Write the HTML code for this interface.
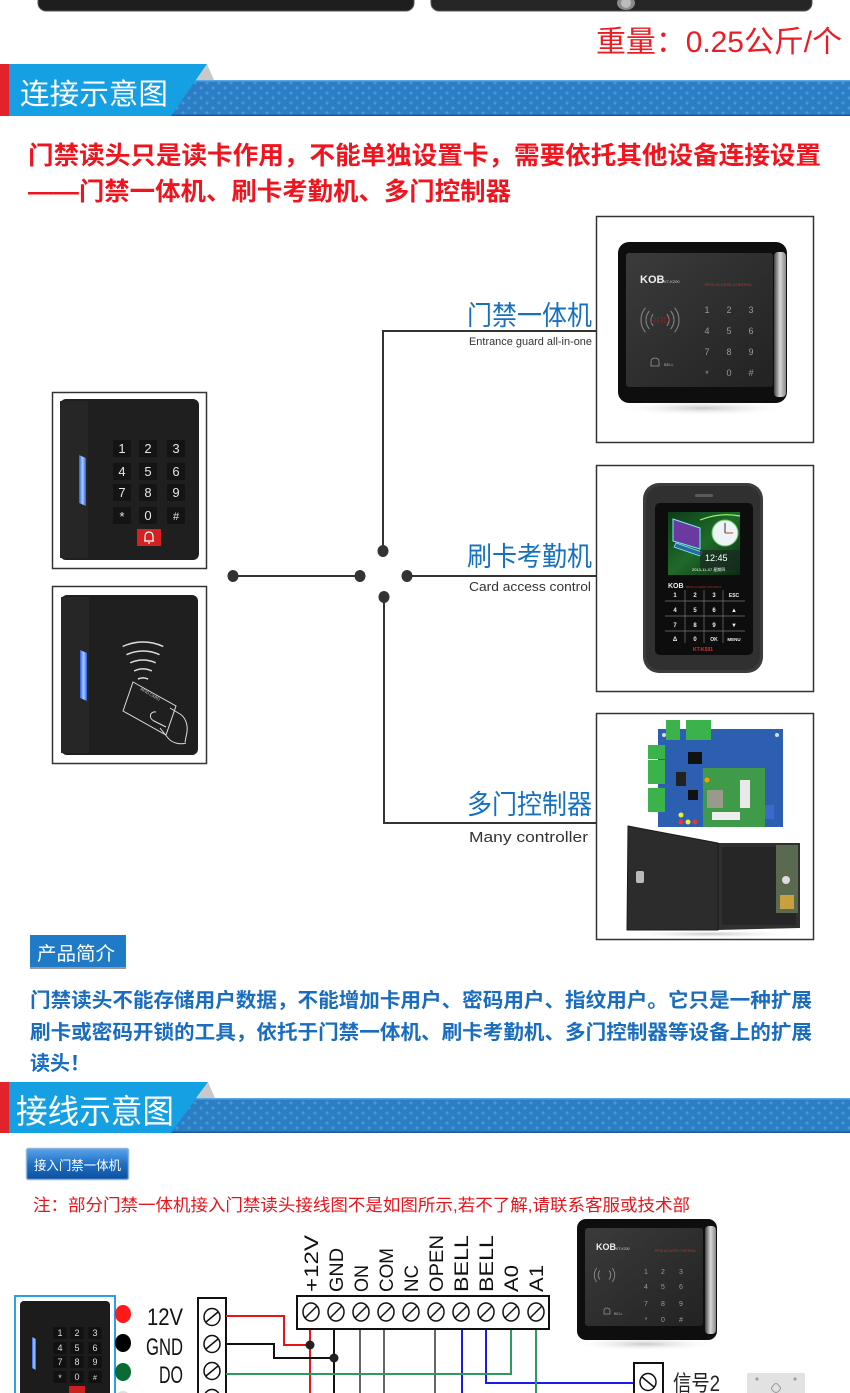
<!DOCTYPE html>
<html><head><meta charset="utf-8">
<style>
html,body{margin:0;padding:0;background:#fff;}
body{width:850px;height:1393px;overflow:hidden;}
svg{display:block;}
text{font-family:"Liberation Sans","Noto Sans CJK SC",sans-serif;}
.cjk{font-family:"Liberation Sans","Noto Sans CJK SC",sans-serif;}
</style></head><body>
<svg width="850" height="1393" viewBox="0 0 850 1393" xmlns="http://www.w3.org/2000/svg">
<defs>
<pattern id="stars" width="12" height="10" patternUnits="userSpaceOnUse">
 <path d="M3 0.5 L3.7 2.3 L5.5 3 L3.7 3.7 L3 5.5 L2.3 3.7 L0.5 3 L2.3 2.3Z" fill="#4fa2e2"/>
 <path d="M9 5.5 L9.7 7.3 L11.5 8 L9.7 8.7 L9 10.5 L8.3 8.7 L6.5 8 L8.3 7.3Z" fill="#4fa2e2"/>
</pattern>
<linearGradient id="btn" x1="0" y1="0" x2="0" y2="1"><stop offset="0" stop-color="#5aa4ea"/><stop offset="0.5" stop-color="#1f6fc6"/><stop offset="1" stop-color="#0c4f9e"/></linearGradient>
<linearGradient id="silver" x1="0" y1="0" x2="1" y2="0"><stop offset="0" stop-color="#444"/><stop offset="0.5" stop-color="#d8d8d8"/><stop offset="1" stop-color="#888"/></linearGradient>
<linearGradient id="face" x1="0" y1="0" x2="1" y2="1"><stop offset="0" stop-color="#3b3b3b"/><stop offset="1" stop-color="#222"/></linearGradient>
<linearGradient id="led" x1="0" y1="0" x2="1" y2="0"><stop offset="0" stop-color="#2a5ee8"/><stop offset="0.5" stop-color="#a8d0ff"/><stop offset="1" stop-color="#2a5ee8"/></linearGradient>
<radialGradient id="shadow"><stop offset="0" stop-color="#c8c8c8"/><stop offset="1" stop-color="#fff" stop-opacity="0"/></radialGradient>
<linearGradient id="scr" x1="0" y1="0" x2="1" y2="1"><stop offset="0" stop-color="#0d3b1a"/><stop offset="0.5" stop-color="#1f6a2a"/><stop offset="1" stop-color="#0b2a12"/></linearGradient>
</defs>

<!-- top device bottoms -->
<rect x="38" y="-12" width="376" height="23" rx="8" fill="#1e1e1e" stroke="#555" stroke-width="1"/>
<rect x="431" y="-12" width="381" height="23" rx="8" fill="#262626" stroke="#555" stroke-width="1"/>
<ellipse cx="626" cy="3" rx="9" ry="7" fill="#8a8a8a"/>
<ellipse cx="626" cy="3" rx="5" ry="5" fill="#bbb"/>

<text x="596" y="52" font-size="30" fill="#ec1c24" textLength="246" lengthAdjust="spacingAndGlyphs">重量：0.25公斤/个</text>

<!-- header 1 -->
<rect x="0" y="80" width="850" height="36" fill="#2b7dc4"/>
<rect x="0" y="80" width="850" height="36" fill="url(#stars)" opacity="0.8"/>
<rect x="0" y="80" width="850" height="1.5" fill="#5aa6e6"/>
<rect x="0" y="114.5" width="850" height="1.5" fill="#1a5a9c"/>
<polygon points="207,64 214,80 196,80" fill="#c9c9c9"/>
<polygon points="9,64 207,64 171,116 9,116" fill="#16a0e4"/>
<rect x="0" y="64" width="9" height="52" fill="#e3232a"/>
<text x="20" y="104" font-size="29" fill="#fff" textLength="148" lengthAdjust="spacingAndGlyphs">连接示意图</text>

<!-- red intro -->
<text x="28" y="164" font-size="25" font-weight="bold" fill="#f0141e" textLength="793" lengthAdjust="spacingAndGlyphs">门禁读头只是读卡作用，不能单独设置卡，需要依托其他设备连接设置</text>
<text x="28" y="200" font-size="25" font-weight="bold" fill="#f0141e" textLength="483" lengthAdjust="spacingAndGlyphs">——门禁一体机、刷卡考勤机、多门控制器</text>

<!-- connectors -->
<g stroke="#333" stroke-width="2" fill="none">
 <line x1="233" y1="576" x2="360" y2="576"/>
 <polyline points="383,551 383,331 596,331"/>
 <line x1="407" y1="576" x2="596" y2="576"/>
 <polyline points="384,597 384,823 596,823"/>
</g>
<g fill="#333">
 <ellipse cx="233" cy="576" rx="5.5" ry="6"/>
 <ellipse cx="360" cy="576" rx="5.5" ry="6"/>
 <ellipse cx="383" cy="551" rx="5.5" ry="6"/>
 <ellipse cx="407" cy="576" rx="5.5" ry="6"/>
 <ellipse cx="384" cy="597" rx="5.5" ry="6"/>
</g>

<!-- labels -->
<text x="467" y="325" font-size="27" fill="#1570c0" textLength="125" lengthAdjust="spacingAndGlyphs">门禁一体机</text>
<text x="469" y="345" font-size="11" fill="#333" textLength="123" lengthAdjust="spacingAndGlyphs">Entrance guard all-in-one</text>
<text x="467" y="566" font-size="27" fill="#1570c0" textLength="125" lengthAdjust="spacingAndGlyphs">刷卡考勤机</text>
<text x="469" y="591" font-size="13" fill="#333" textLength="122" lengthAdjust="spacingAndGlyphs">Card access control</text>
<text x="467" y="814" font-size="27" fill="#1570c0" textLength="125" lengthAdjust="spacingAndGlyphs">多门控制器</text>
<text x="469" y="842" font-size="15" fill="#333" textLength="119" lengthAdjust="spacingAndGlyphs">Many controller</text>

<!-- left box 1: keypad reader -->
<rect x="52.5" y="392.5" width="154" height="176" fill="#fff" stroke="#333" stroke-width="1.5"/>
<rect x="60" y="399" width="139" height="161" rx="6" fill="#1f1f1f"/>
<rect x="60" y="401" width="28" height="157" fill="#262626"/>
<polygon points="79,455 86,458 86,506 79,503" fill="url(#led)"/>
<g font-size="13" fill="#e6e6e6" text-anchor="middle">
 <rect x="113" y="440" width="18" height="17" fill="#141414"/><text x="122" y="453">1</text>
 <rect x="139" y="440" width="18" height="17" fill="#141414"/><text x="148" y="453">2</text>
 <rect x="167" y="440" width="18" height="17" fill="#141414"/><text x="176" y="453">3</text>
 <rect x="113" y="463" width="18" height="17" fill="#141414"/><text x="122" y="476">4</text>
 <rect x="139" y="463" width="18" height="17" fill="#141414"/><text x="148" y="476">5</text>
 <rect x="167" y="463" width="18" height="17" fill="#141414"/><text x="176" y="476">6</text>
 <rect x="113" y="484" width="18" height="17" fill="#141414"/><text x="122" y="497">7</text>
 <rect x="139" y="484" width="18" height="17" fill="#141414"/><text x="148" y="497">8</text>
 <rect x="167" y="484" width="18" height="17" fill="#141414"/><text x="176" y="497">9</text>
 <rect x="113" y="507" width="18" height="17" fill="#141414"/><text x="122" y="521">*</text>
 <rect x="139" y="507" width="18" height="17" fill="#141414"/><text x="148" y="520">0</text>
 <rect x="167" y="507" width="18" height="17" fill="#141414"/><text x="176" y="520" font-size="11">#</text>
</g>
<rect x="137" y="529" width="24" height="17" fill="#d42121"/>
<path d="M145 541 L145 537 Q145 532 149 532 Q153 532 153 537 L153 541 Z M144 541 L154 541 M148 543 L150 543" stroke="#fff" stroke-width="1.2" fill="none"/>

<!-- left box 2: RFID reader -->
<rect x="52.5" y="586.5" width="154" height="177" fill="#fff" stroke="#333" stroke-width="1.5"/>
<rect x="61" y="595" width="137" height="160" rx="6" fill="#1f1f1f"/>
<rect x="61" y="597" width="28" height="156" fill="#262626"/>
<polygon points="80,650 87,653 87,701 80,698" fill="url(#led)"/>
<g stroke="#ddd" stroke-width="1.5" fill="none">
 <path d="M122.7 646.5 A48 48 0 0 1 163.3 646.5"/>
 <path d="M126.5 654.7 A39 39 0 0 1 159.5 654.7"/>
 <path d="M130.3 662.8 A30 30 0 0 1 155.7 662.8"/>
 <path d="M134.1 671 A21 21 0 0 1 151.9 671"/>
 <path d="M137.9 679.1 A12 12 0 0 1 148.1 679.1"/>
</g>
<g stroke="#ddd" stroke-width="1" fill="none">
 <polygon points="133,682 176,706 166,735 123,711"/>
 <path d="M156 712 c-6 -1 -8 6 -2 9 l12 6"/>
 <path d="M170 708 l10 6 c5 3 8 10 7 18 l-2 10"/>
 <path d="M160 728 l8 10 c4 5 12 7 18 5"/>
</g>
<text x="0" y="0" font-size="4" fill="#ccc" transform="translate(140,690) rotate(30)">RFID CARD</text>

<!-- right box 1 -->
<rect x="596.5" y="216.5" width="217" height="226" fill="#fff" stroke="#333" stroke-width="1.5"/>
<ellipse cx="703" cy="408" rx="90" ry="8" fill="url(#shadow)"/>
<rect x="618" y="242" width="169" height="161" rx="11" fill="#0e0e0e"/>
<rect x="774" y="252" width="12" height="145" rx="4" fill="url(#silver)"/>
<rect x="626" y="253" width="147" height="134" rx="3" fill="url(#face)"/>
<text x="640" y="283" font-size="11" font-weight="bold" fill="#eee">KOB</text>
<text x="664" y="283" font-size="4" fill="#ccc">KT-K200</text>
<text x="705" y="286" font-size="4" fill="#b33">RFID ACCESS CONTROL</text>
<g stroke="#8a8a8a" stroke-width="1" fill="none">
 <path d="M653.1 314.2 A9 9 0 0 0 653.1 325.8"/>
 <path d="M649.3 311 A14 14 0 0 0 649.3 329"/>
 <path d="M645.4 307.8 A19 19 0 0 0 645.4 332.2"/>
 <path d="M666.9 314.2 A9 9 0 0 1 666.9 325.8"/>
 <path d="M670.7 311 A14 14 0 0 1 670.7 329"/>
 <path d="M674.6 307.8 A19 19 0 0 1 674.6 332.2"/>
</g>
<text x="660" y="323" font-size="8" fill="#7a2a2a" text-anchor="middle">RFID</text>
<g font-size="9" fill="#9a9a9a" text-anchor="middle">
 <text x="707" y="313">1</text><text x="729" y="313">2</text><text x="751" y="313">3</text>
 <text x="707" y="334">4</text><text x="729" y="334">5</text><text x="751" y="334">6</text>
 <text x="707" y="355">7</text><text x="729" y="355">8</text><text x="751" y="355">9</text>
 <text x="707" y="377">*</text><text x="729" y="376">0</text><text x="751" y="376">#</text>
</g>
<path d="M651 366 L651 362 Q651 358 655 358 Q659 358 659 362 L659 366 Z" stroke="#999" stroke-width="0.8" fill="none"/>
<text x="664" y="366" font-size="4" fill="#aaa">BELL</text>

<!-- right box 2 -->
<rect x="596.5" y="465.5" width="217" height="226" fill="#fff" stroke="#333" stroke-width="1.5"/>
<rect x="643" y="483" width="120" height="190" rx="16" fill="#3c3c3c"/>
<rect x="646" y="486" width="114" height="184" rx="14" fill="#303030"/>
<rect x="695" y="494" width="18" height="3" rx="1" fill="#5a5a5a"/>
<rect x="655" y="503" width="98" height="152" rx="5" fill="#0d0d0d"/>
<rect x="668" y="512" width="72" height="63" fill="url(#scr)"/>
<polygon points="673,519 700,528 700,549 673,541" fill="#6a3aa0" stroke="#7ef" stroke-width="1"/>
<polygon points="676,543 702,552 700,556 674,547" fill="#2a6a9a" stroke="#7ef" stroke-width="0.8"/>
<path d="M700 520 Q720 512 740 516" stroke="#9f6" stroke-width="1.2" fill="none"/>
<circle cx="725" cy="533" r="13" fill="#eef3f5" stroke="#6c6" stroke-width="1"/>
<line x1="725" y1="533" x2="725" y2="523" stroke="#333" stroke-width="1"/>
<line x1="725" y1="533" x2="733" y2="533" stroke="#c33" stroke-width="1"/>
<rect x="700" y="550" width="40" height="20" fill="#1a2a22" opacity="0.7"/>
<text x="705" y="561" font-size="9" fill="#fff">12:45</text>
<text x="692" y="571" font-size="4" fill="#fff">2013-11-07 星期四</text>
<text x="668" y="588" font-size="7" font-weight="bold" fill="#eee">KOB</text>
<text x="686" y="588" font-size="3" fill="#b33">RFID ACCESS CONTROL</text>
<g stroke="#777" stroke-width="0.7">
 <line x1="665" y1="601" x2="745" y2="601"/>
 <line x1="665" y1="616" x2="745" y2="616"/>
 <line x1="665" y1="631" x2="745" y2="631"/>
 <line x1="685" y1="590" x2="685" y2="643"/>
 <line x1="704" y1="590" x2="704" y2="643"/>
 <line x1="723" y1="590" x2="723" y2="643"/>
</g>
<g font-size="6" font-weight="bold" fill="#eee" text-anchor="middle">
 <text x="675" y="597">1</text><text x="695" y="597">2</text><text x="714" y="597">3</text><text x="734" y="597" font-size="5">ESC</text>
 <text x="675" y="612">4</text><text x="695" y="612">5</text><text x="714" y="612">6</text><text x="734" y="612">▲</text>
 <text x="675" y="627">7</text><text x="695" y="627">8</text><text x="714" y="627">9</text><text x="734" y="627">▼</text>
 <text x="675" y="641">Δ</text><text x="695" y="641">0</text><text x="714" y="641" font-size="5">OK</text><text x="734" y="641" font-size="4.5">MENU</text>
</g>
<text x="693" y="651" font-size="5" font-weight="bold" fill="#d33">KT-K501</text>

<!-- right box 3 -->
<rect x="596.5" y="713.5" width="217" height="226" fill="#fff" stroke="#333" stroke-width="1.5"/>
<rect x="658" y="729" width="125" height="98" fill="#2d5fb0"/>
<circle cx="664" cy="735" r="2" fill="#ddd"/><circle cx="777" cy="735" r="2" fill="#ddd"/>
<rect x="666" y="720" width="14" height="20" fill="#3bb34a"/>
<rect x="686" y="720" width="13" height="20" fill="#3bb34a"/>
<rect x="699" y="720" width="12" height="20" fill="#3bb34a"/>
<rect x="648" y="745" width="17" height="14" fill="#3bb34a"/>
<rect x="648" y="760" width="17" height="24" fill="#3bb34a"/>
<rect x="648" y="788" width="17" height="24" fill="#3bb34a"/>
<rect x="688" y="752" width="14" height="12" fill="#111"/>
<rect x="676" y="772" width="10" height="14" fill="#222"/>
<rect x="688" y="790" width="10" height="10" fill="#111"/>
<rect x="703" y="768" width="62" height="59" fill="#3f9a4a"/>
<rect x="707" y="790" width="16" height="18" fill="#9a9a8a"/>
<rect x="740" y="780" width="10" height="28" fill="#e8e8e8"/>
<rect x="712" y="812" width="28" height="8" fill="#eee"/>
<rect x="765" y="805" width="9" height="14" fill="#3a6ad0"/>
<circle cx="681" cy="815" r="2.5" fill="#ee3"/>
<circle cx="681" cy="822" r="2.5" fill="#e33"/><circle cx="688" cy="822" r="2.5" fill="#ee3"/><circle cx="695" cy="822" r="2.5" fill="#e33"/>
<circle cx="707" cy="780" r="2.5" fill="#f90"/>
<polygon points="718,843 800,843 800,928 718,930" fill="#303030"/>
<rect x="722" y="847" width="74" height="78" fill="#262626"/>
<rect x="776" y="845" width="22" height="68" fill="#5a6a50"/>
<rect x="780" y="895" width="14" height="14" fill="#c8a040"/>
<circle cx="786" cy="880" r="4" fill="#ddd"/>
<polygon points="628,826 718,843 718,930 627,930" fill="#2c2c2c" stroke="#1a1a1a" stroke-width="1"/>
<rect x="636" y="871" width="8" height="12" rx="2" fill="#bbb"/>
<ellipse cx="710" cy="934" rx="90" ry="4" fill="url(#shadow)"/>

<!-- product intro -->
<rect x="30" y="967" width="96" height="2" fill="#999"/>
<rect x="30" y="935" width="96" height="32" fill="#1f7bc7"/>
<text x="37" y="960" font-size="19" fill="#fff" textLength="78" lengthAdjust="spacingAndGlyphs">产品简介</text>
<g font-size="20" font-weight="bold" fill="#1a6cbf">
<text x="30" y="1007" textLength="782" lengthAdjust="spacingAndGlyphs">门禁读头不能存储用户数据，不能增加卡用户、密码用户、指纹用户。它只是一种扩展</text>
<text x="30" y="1039" textLength="782" lengthAdjust="spacingAndGlyphs">刷卡或密码开锁的工具，依托于门禁一体机、刷卡考勤机、多门控制器等设备上的扩展</text>
<text x="30" y="1070">读头！</text>
</g>

<!-- header 2 -->
<rect x="0" y="1098" width="850" height="35" fill="#2b7dc4"/>
<rect x="0" y="1098" width="850" height="35" fill="url(#stars)" opacity="0.8"/>
<rect x="0" y="1098" width="850" height="1.5" fill="#5aa6e6"/>
<rect x="0" y="1131.5" width="850" height="1.5" fill="#1a5a9c"/>
<polygon points="208,1082 215,1098 197,1098" fill="#c9c9c9"/>
<polygon points="9,1082 208,1082 171,1133 9,1133" fill="#16a0e4"/>
<rect x="0" y="1082" width="9" height="51" fill="#e3232a"/>
<text x="16" y="1123" font-size="33" fill="#fff" textLength="158" lengthAdjust="spacingAndGlyphs">接线示意图</text>

<!-- button -->
<rect x="26.5" y="1148.5" width="102" height="31" rx="2" fill="url(#btn)" stroke="#8fb3d9" stroke-width="1.5"/>
<text x="34" y="1170" font-size="13" fill="#fff" textLength="87" lengthAdjust="spacingAndGlyphs">接入门禁一体机</text>

<text x="33" y="1211" font-size="17" fill="#e8141b" textLength="657" lengthAdjust="spacingAndGlyphs">注：部分门禁一体机接入门禁读头接线图不是如图所示,若不了解,请联系客服或技术部</text>

<!-- bottom right device -->
<ellipse cx="645" cy="1344" rx="75" ry="7" fill="url(#shadow)"/>
<rect x="577" y="1219" width="140" height="121" rx="9" fill="#0e0e0e"/>
<rect x="705" y="1226" width="11" height="108" rx="4" fill="url(#silver)"/>
<rect x="585" y="1228" width="118" height="98" rx="3" fill="url(#face)"/>
<text x="596" y="1250" font-size="9" font-weight="bold" fill="#eee">KOB</text>
<text x="616" y="1250" font-size="3.5" fill="#ccc">KT-K200</text>
<text x="655" y="1252" font-size="3.5" fill="#b33">RFID ACCESS CONTROL</text>
<g stroke="#8a8a8a" stroke-width="0.9" fill="none">
 <path d="M599.9 1270.5 A7 7 0 0 0 599.9 1279.5"/>
 <path d="M596.8 1268 A11 11 0 0 0 596.8 1282"/>
 <path d="M609.1 1270.5 A7 7 0 0 1 609.1 1279.5"/>
 <path d="M612.2 1268 A11 11 0 0 1 612.2 1282"/>
</g>
<g font-size="7" fill="#9a9a9a" text-anchor="middle">
 <text x="646" y="1274">1</text><text x="663" y="1274">2</text><text x="681" y="1274">3</text>
 <text x="646" y="1289">4</text><text x="663" y="1289">5</text><text x="681" y="1289">6</text>
 <text x="646" y="1306">7</text><text x="663" y="1306">8</text><text x="681" y="1306">9</text>
 <text x="646" y="1322">*</text><text x="663" y="1322">0</text><text x="681" y="1322">#</text>
</g>
<path d="M604 1314 L604 1311 Q604 1308 607 1308 Q610 1308 610 1311 L610 1314 Z" stroke="#999" stroke-width="0.7" fill="none"/>
<text x="614" y="1315" font-size="3.5" fill="#aaa">BELL</text>

<!-- wiring: reader -->
<rect x="15" y="1296" width="100" height="110" fill="#fff" stroke="#29a3e0" stroke-width="2"/>
<rect x="20" y="1301" width="90" height="100" rx="4" fill="#1c1c1c"/>
<polygon points="32,1337 36,1339 36,1370 32,1368" fill="url(#led)"/>
<g font-size="9" fill="#ddd" text-anchor="middle">
 <rect x="53.5" y="1327" width="13" height="12" fill="#111"/><text x="60" y="1336">1</text>
 <rect x="70.5" y="1327" width="13" height="12" fill="#111"/><text x="77" y="1336">2</text>
 <rect x="88.5" y="1327" width="13" height="12" fill="#111"/><text x="95" y="1336">3</text>
 <rect x="53.5" y="1342" width="13" height="12" fill="#111"/><text x="60" y="1351">4</text>
 <rect x="70.5" y="1342" width="13" height="12" fill="#111"/><text x="77" y="1351">5</text>
 <rect x="88.5" y="1342" width="13" height="12" fill="#111"/><text x="95" y="1351">6</text>
 <rect x="53.5" y="1356" width="13" height="12" fill="#111"/><text x="60" y="1365">7</text>
 <rect x="70.5" y="1356" width="13" height="12" fill="#111"/><text x="77" y="1365">8</text>
 <rect x="88.5" y="1356" width="13" height="12" fill="#111"/><text x="95" y="1365">9</text>
 <rect x="53.5" y="1371" width="13" height="12" fill="#111"/><text x="60" y="1381">*</text>
 <rect x="70.5" y="1371" width="13" height="12" fill="#111"/><text x="77" y="1380">0</text>
 <rect x="88.5" y="1371" width="13" height="12" fill="#111"/><text x="95" y="1380" font-size="7">#</text>
</g>
<rect x="69" y="1386" width="16" height="10" fill="#c92020"/>

<!-- color dots -->
<ellipse cx="123" cy="1314" rx="8" ry="9" fill="#ff1a1a"/>
<ellipse cx="123" cy="1343" rx="8" ry="9" fill="#000"/>
<ellipse cx="123" cy="1372" rx="8" ry="9" fill="#0a6b34"/>
<ellipse cx="123" cy="1400" rx="8" ry="9" fill="#ddd"/>
<g font-size="24" fill="#111">
 <text x="147" y="1325" textLength="36" lengthAdjust="spacingAndGlyphs">12V</text>
 <text x="146" y="1355" textLength="37" lengthAdjust="spacingAndGlyphs">GND</text>
 <text x="159" y="1383" textLength="24" lengthAdjust="spacingAndGlyphs">DO</text>
</g>

<!-- left terminal block -->
<rect x="198" y="1298" width="28" height="110" fill="#fff" stroke="#111" stroke-width="2"/>
<g stroke="#111" stroke-width="1.5" fill="none">
 <ellipse cx="212" cy="1317" rx="8" ry="8.5"/><line x1="206" y1="1322" x2="218" y2="1312"/>
 <ellipse cx="212" cy="1344" rx="8" ry="8.5"/><line x1="206" y1="1349" x2="218" y2="1339"/>
 <ellipse cx="212" cy="1371" rx="8" ry="8.5"/><line x1="206" y1="1376" x2="218" y2="1366"/>
 <ellipse cx="212" cy="1398" rx="8" ry="8.5"/>
</g>

<!-- wires -->
<g fill="none" stroke-width="2">
 <polyline points="226,1316 284,1316 284,1345 310,1345" stroke="#e8141b"/>
 <line x1="310" y1="1329" x2="310" y2="1393" stroke="#e8141b"/>
 <polyline points="226,1344 274,1344 274,1358 334,1358" stroke="#111"/>
 <line x1="334" y1="1329" x2="334" y2="1393" stroke="#111"/>
 <line x1="360" y1="1329" x2="360" y2="1393" stroke="#333" stroke-width="1.5"/>
 <line x1="384" y1="1329" x2="384" y2="1393" stroke="#333" stroke-width="1.5"/>
 <line x1="435" y1="1329" x2="435" y2="1393" stroke="#333" stroke-width="1.5"/>
 <line x1="462" y1="1329" x2="462" y2="1393" stroke="#1a1aee"/>
 <polyline points="486,1329 486,1383 634,1383" stroke="#1a1aee"/>
 <polyline points="511,1329 511,1374 226,1374" stroke="#2e9a5e"/>
 <line x1="536" y1="1329" x2="536" y2="1393" stroke="#2e9a5e"/>
</g>
<circle cx="310" cy="1345" r="4.5" fill="#222"/>
<circle cx="334" cy="1358" r="4.5" fill="#222"/>

<!-- main terminal strip -->
<rect x="297" y="1296" width="252" height="33" fill="#fff" stroke="#111" stroke-width="2"/>
<g stroke="#111" stroke-width="1.5" fill="none">
 <ellipse cx="311" cy="1312" rx="8" ry="9"/><line x1="305" y1="1318" x2="317" y2="1306"/>
 <ellipse cx="336" cy="1312" rx="8" ry="9"/><line x1="330" y1="1318" x2="342" y2="1306"/>
 <ellipse cx="361" cy="1312" rx="8" ry="9"/><line x1="355" y1="1318" x2="367" y2="1306"/>
 <ellipse cx="386" cy="1312" rx="8" ry="9"/><line x1="380" y1="1318" x2="392" y2="1306"/>
 <ellipse cx="411" cy="1312" rx="8" ry="9"/><line x1="405" y1="1318" x2="417" y2="1306"/>
 <ellipse cx="436" cy="1312" rx="8" ry="9"/><line x1="430" y1="1318" x2="442" y2="1306"/>
 <ellipse cx="461" cy="1312" rx="8" ry="9"/><line x1="455" y1="1318" x2="467" y2="1306"/>
 <ellipse cx="486" cy="1312" rx="8" ry="9"/><line x1="480" y1="1318" x2="492" y2="1306"/>
 <ellipse cx="511" cy="1312" rx="8" ry="9"/><line x1="505" y1="1318" x2="517" y2="1306"/>
 <ellipse cx="536" cy="1312" rx="8" ry="9"/><line x1="530" y1="1318" x2="542" y2="1306"/>
</g>

<!-- vertical labels -->
<g font-size="19" fill="#111">
 <text transform="translate(318,1292) rotate(-90)" textLength="57" lengthAdjust="spacingAndGlyphs">+12V</text>
 <text transform="translate(343,1292) rotate(-90)" textLength="44" lengthAdjust="spacingAndGlyphs">GND</text>
 <text transform="translate(368,1292) rotate(-90)" textLength="27" lengthAdjust="spacingAndGlyphs">ON</text>
 <text transform="translate(393,1292) rotate(-90)" textLength="44" lengthAdjust="spacingAndGlyphs">COM</text>
 <text transform="translate(418,1292) rotate(-90)" textLength="27" lengthAdjust="spacingAndGlyphs">NC</text>
 <text transform="translate(443,1292) rotate(-90)" textLength="57" lengthAdjust="spacingAndGlyphs">OPEN</text>
 <text transform="translate(468,1292) rotate(-90)" textLength="57" lengthAdjust="spacingAndGlyphs">BELL</text>
 <text transform="translate(493,1292) rotate(-90)" textLength="57" lengthAdjust="spacingAndGlyphs">BELL</text>
 <text transform="translate(518,1292) rotate(-90)" textLength="27" lengthAdjust="spacingAndGlyphs">A0</text>
 <text transform="translate(543,1292) rotate(-90)" textLength="27" lengthAdjust="spacingAndGlyphs">A1</text>
</g>

<!-- signal 2 -->
<rect x="634" y="1363" width="29" height="45" fill="#fff" stroke="#111" stroke-width="2"/>
<ellipse cx="648" cy="1382" rx="8" ry="8.5" fill="none" stroke="#111" stroke-width="1.5"/>
<line x1="642" y1="1377" x2="654" y2="1387" stroke="#111" stroke-width="1.5"/>
<text x="673" y="1391" font-size="22" fill="#222" textLength="47" lengthAdjust="spacingAndGlyphs">信号2</text>

<!-- exit button plate -->
<rect x="747" y="1373" width="58" height="30" rx="2" fill="#e2e2e2"/>
<circle cx="757" cy="1379" r="1.5" fill="#999"/><circle cx="795" cy="1379" r="1.5" fill="#999"/>
<path d="M773 1386 q3 -5 6 0 q3 2 0 5 q-3 3 -6 0 q-3 -3 0 -5z" fill="none" stroke="#999" stroke-width="1"/>
</svg>
</body></html>
